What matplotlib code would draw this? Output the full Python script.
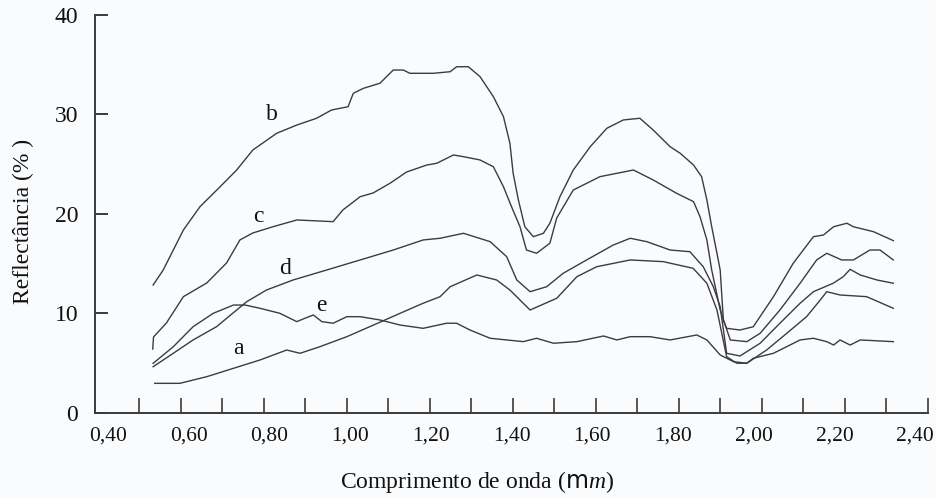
import numpy as np
import matplotlib
matplotlib.use("Agg")
import matplotlib.pyplot as plt
from matplotlib.ticker import FixedLocator, NullFormatter

plt.rcParams["font.family"] = ["Liberation Serif", "DejaVu Serif"]
plt.rcParams["mathtext.fontset"] = "custom"
plt.rcParams["mathtext.rm"] = "Liberation Serif"
plt.rcParams["mathtext.it"] = "Liberation Serif:italic"
plt.rcParams["mathtext.sf"] = "DejaVu Sans"

# Reflectance spectra (wavelength in micrometres, reflectance in %)
wl_a = [0.516, 0.578, 0.645, 0.711, 0.777, 0.843, 0.876, 0.925, 0.992, 1.058,
        1.124, 1.181, 1.223, 1.248, 1.314, 1.363, 1.396, 1.446, 1.512, 1.562,
        1.611, 1.694, 1.776, 1.850, 1.884, 1.909, 1.933, 1.958, 1.983, 2.032,
        2.082, 2.131, 2.165, 2.181, 2.214, 2.280, 2.346]
refl_a = [2.98, 2.98, 3.65, 4.49, 5.33, 6.33, 6.00, 6.66, 7.67, 8.84,
          10.02, 11.03, 11.69, 12.69, 13.87, 13.37, 12.36, 10.35, 11.53, 13.70,
          14.70, 15.38, 15.21, 14.54, 13.04, 10.35, 5.66, 5.00, 5.00, 6.33,
          8.01, 9.68, 11.36, 12.19, 11.86, 11.69, 10.52]

wl_b = [0.512, 0.537, 0.562, 0.587, 0.628, 0.678, 0.719, 0.759, 0.818, 0.868,
        0.917, 0.954, 0.975, 0.995, 1.008, 1.033, 1.074, 1.107, 1.132, 1.148,
        1.206, 1.248, 1.264, 1.293, 1.322, 1.355, 1.380, 1.396, 1.404, 1.417,
        1.433, 1.454, 1.479, 1.495, 1.520, 1.553, 1.595, 1.636, 1.677, 1.718,
        1.751, 1.793, 1.818, 1.851, 1.871, 1.884, 1.896, 1.909, 1.917, 1.925,
        1.933, 1.966, 1.999, 2.049, 2.098, 2.148, 2.173, 2.198, 2.231, 2.247,
        2.297, 2.346]
refl_b = [12.86, 14.37, 16.38, 18.39, 20.73, 22.74, 24.42, 26.43, 28.11, 28.94,
          29.62, 30.45, 30.62, 30.78, 32.13, 32.63, 33.14, 34.47, 34.47, 34.14,
          34.14, 34.30, 34.80, 34.80, 33.80, 31.79, 29.78, 27.11, 24.09, 21.41,
          18.72, 17.72, 18.06, 19.07, 21.74, 24.42, 26.76, 28.61, 29.45, 29.62,
          28.44, 26.76, 26.10, 24.92, 23.75, 21.41, 18.72, 16.05, 14.37, 9.30,
          8.51, 8.34, 8.67, 11.69, 15.05, 17.72, 17.89, 18.72, 19.07, 18.72,
          18.22, 17.32]

wl_c = [0.511, 0.513, 0.545, 0.587, 0.645, 0.694, 0.727, 0.759, 0.809, 0.868,
        0.958, 0.982, 1.025, 1.057, 1.099, 1.140, 1.190, 1.215, 1.256, 1.281,
        1.322, 1.355, 1.380, 1.400, 1.421, 1.437, 1.462, 1.495, 1.512, 1.553,
        1.619, 1.702, 1.751, 1.809, 1.851, 1.867, 1.884, 1.896, 1.917, 1.942,
        1.983, 2.016, 2.065, 2.115, 2.156, 2.181, 2.218, 2.247, 2.288, 2.313,
        2.346]
refl_c = [6.43, 7.64, 9.05, 11.69, 13.07, 15.08, 17.39, 18.09, 18.72, 19.40,
          19.23, 20.40, 21.74, 22.11, 23.09, 24.22, 24.92, 25.10, 25.93, 25.76,
          25.43, 24.75, 22.74, 20.73, 18.72, 16.38, 16.05, 17.06, 19.60, 22.41,
          23.75, 24.42, 23.42, 22.08, 21.24, 19.73, 17.39, 14.37, 10.35, 7.34,
          7.17, 8.01, 10.35, 13.04, 15.38, 16.05, 15.38, 15.38, 16.38, 16.38,
          15.38]

wl_d = [0.512, 0.562, 0.611, 0.669, 0.719, 0.744, 0.793, 0.859, 0.942, 1.025,
        1.107, 1.181, 1.223, 1.281, 1.347, 1.388, 1.413, 1.446, 1.487, 1.528,
        1.586, 1.652, 1.694, 1.735, 1.793, 1.842, 1.875, 1.900, 1.917, 1.933,
        1.966, 2.016, 2.065, 2.115, 2.148, 2.197, 2.222, 2.239, 2.264, 2.305,
        2.346]
refl_d = [4.65, 6.00, 7.34, 8.67, 10.35, 11.19, 12.36, 13.37, 14.37, 15.38,
          16.38, 17.39, 17.56, 18.06, 17.22, 15.71, 13.37, 12.19, 12.69, 14.04,
          15.38, 16.88, 17.56, 17.22, 16.38, 16.21, 14.70, 12.69, 10.68, 6.00,
          5.73, 7.01, 9.02, 11.03, 12.19, 13.04, 13.70, 14.44, 13.87, 13.37,
          13.04]

wl_e = [0.512, 0.562, 0.611, 0.661, 0.711, 0.740, 0.777, 0.826, 0.868, 0.888,
        0.909, 0.930, 0.958, 0.992, 1.025, 1.074, 1.124, 1.181, 1.239, 1.264,
        1.297, 1.347, 1.429, 1.462, 1.504, 1.562, 1.628, 1.661, 1.694, 1.743,
        1.793, 1.859, 1.884, 1.917, 1.950, 1.983, 1.999, 2.049, 2.115, 2.148,
        2.181, 2.198, 2.214, 2.239, 2.264, 2.346]
refl_e = [4.99, 6.66, 8.67, 10.02, 10.85, 10.85, 10.52, 10.02, 9.18, 9.52,
          9.85, 9.18, 9.02, 9.68, 9.68, 9.35, 8.84, 8.51, 9.02, 9.02,
          8.34, 7.51, 7.17, 7.51, 7.01, 7.17, 7.74, 7.34, 7.67, 7.67,
          7.34, 7.84, 7.34, 5.83, 5.16, 5.00, 5.50, 6.00, 7.34, 7.51,
          7.17, 6.83, 7.34, 6.83, 7.34, 7.17]

curve_names = ["a", "b", "c", "d", "e"]
label_wl = [0.723, 0.806, 0.772, 0.839, 0.930]
label_refl = [6.5, 29.95, 19.7, 14.54, 10.85]

x_ticklabels = ["0,40", "0,60", "0,80", "1,00", "1,20", "1,40",
                "1,60", "1,80", "2,00", "2,20", "2,40"]
x_labelpos = [0.40, 0.60, 0.80, 1.00, 1.20, 1.40, 1.60, 1.80, 2.00, 2.20, 2.40]
y_ticks = [0, 10, 20, 30, 40]

line_color = "#3c3c40"
bg = "#fafbfd"

fig = plt.figure(figsize=(9.36, 4.98), dpi=100, facecolor=bg)
ax = fig.add_axes([0.1015, 0.1707, 0.8900, 0.7992], facecolor=bg)

series = [(wl_a, refl_a), (wl_b, refl_b), (wl_c, refl_c), (wl_d, refl_d), (wl_e, refl_e)]
for (wl, rf) in series:
    ax.plot(wl, rf, color=line_color, lw=1.0, solid_joinstyle="round")

for name, lx, ly in zip(curve_names, label_wl, label_refl):
    ax.text(lx, ly, name, fontsize=17, ha="center", va="center", color="#111111")

ax.set_xlim(0.368, 2.432)
ax.set_ylim(0, 40)

for side in ("top", "right"):
    ax.spines[side].set_visible(False)
for side in ("left", "bottom"):
    ax.spines[side].set_color("#3a3a3a")
    ax.spines[side].set_linewidth(1.4)

# labelled positions carry no mark; the marks sit on an evenly spaced ruler
ax.xaxis.set_major_locator(FixedLocator(x_labelpos))
ax.set_xticklabels(x_ticklabels)
ax.xaxis.set_minor_locator(FixedLocator(np.linspace(0.477, 2.431, 20)))
ax.xaxis.set_minor_formatter(NullFormatter())
ax.tick_params(axis="x", which="major", length=0, pad=10, labelsize=15.5,
               colors="#111111")
ax.tick_params(axis="x", which="minor", direction="in", length=10.5, width=1.2,
               color="#3a3a3a")

ax.set_yticks(y_ticks)
ax.tick_params(axis="y", which="major", direction="in", length=9.5, width=1.4,
               color="#3a3a3a", labelcolor="#111111", labelsize=17, pad=12)

fig.text(0.5096, 0.032, r"Comprimento de onda ($\mathsf{m}\mathit{m}$)",
         fontsize=17, ha="center", va="center", color="#111111")
fig.text(0.0246, 0.556, "Reflectância (% )", fontsize=17, rotation=90,
         ha="center", va="center", color="#111111")

fig.savefig("out.png", dpi=100, facecolor=bg)
